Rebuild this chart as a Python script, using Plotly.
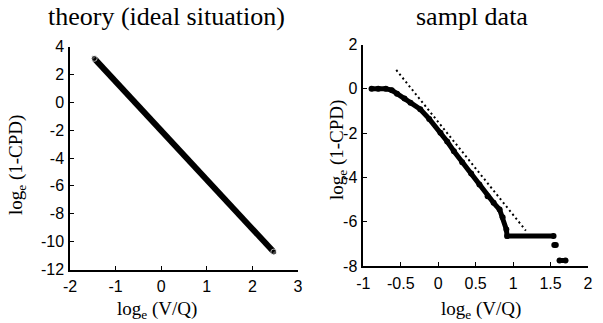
import plotly.graph_objects as go

# ---- data ----
theory_x = [-1.47, -1.0, -0.5, 0.0, 0.5, 1.0, 1.5, 2.0, 2.47]
theory_y = [3.15, 1.5, -0.3, -2.05, -3.8, -5.55, -7.3, -9.05, -10.75]

sample_x = [-0.89, -0.80, -0.70, -0.62, -0.55, -0.45, -0.37, -0.24, -0.12, 0.03, 0.12, 0.21,
            0.32, 0.44, 0.55, 0.66, 0.74, 0.82, 0.86, 0.91,
            0.92, 1.54, None, 1.55, 1.57, None, 1.62, 1.70]
sample_y = [0.0, 0.0, 0.0, -0.06, -0.22, -0.44, -0.63, -0.92, -1.36, -1.98, -2.38, -2.82,
            -3.32, -3.82, -4.32, -4.85, -5.15, -5.45, -5.8, -6.35,
            -6.65, -6.65, None, -7.05, -7.05, None, -7.75, -7.75]

fit_x = [-0.56, 1.17]
fit_y = [0.85, -6.4]

left_xticks = [-2, -1, 0, 1, 2, 3]
left_yticks = [4, 2, 0, -2, -4, -6, -8, -10, -12]
right_xticks = [-1, -0.5, 0, 0.5, 1, 1.5, 2]
right_yticks = [2, 0, -2, -4, -6, -8]


def lab(v):
    return "%g" % v


W, H = 603, 323


def px(x):
    return x / W


def py(y):
    return 1 - y / H


fig = go.Figure()
fig.add_trace(go.Scatter(x=theory_x, y=theory_y, mode="lines+markers",
                         line=dict(color="black", width=6),
                         marker=dict(color="black", size=[6, 0, 0, 0, 0, 0, 0, 0, 6]),
                         xaxis="x", yaxis="y", showlegend=False))
fig.add_trace(go.Scatter(x=sample_x, y=sample_y, mode="lines+markers",
                         line=dict(color="black", width=5),
                         marker=dict(color="black", size=6),
                         connectgaps=False,
                         xaxis="x2", yaxis="y2", showlegend=False))
fig.add_trace(go.Scatter(x=fit_x, y=fit_y, mode="lines",
                         line=dict(color="black", width=2, dash="2px,3px"),
                         xaxis="x2", yaxis="y2", showlegend=False))

tickfont = dict(family="Liberation Sans, Arial", size=16, color="black")
axis_common = dict(showline=True, linecolor="black", linewidth=1.5, ticks="inside",
                   ticklen=4, tickwidth=1.2, tickcolor="black", showgrid=False,
                   zeroline=False, tickfont=tickfont, mirror=False)

fig.update_layout(
    width=W, height=H, margin=dict(l=0, r=0, t=0, b=0, autoexpand=False),
    paper_bgcolor="white", plot_bgcolor="white",
    xaxis=dict(domain=[px(70), px(298)], range=[-2, 3], anchor="y",
               tickvals=left_xticks, ticktext=[lab(v) for v in left_xticks],
               ticklabelstandoff=2, **axis_common),
    yaxis=dict(domain=[py(269.5), py(46.5)], range=[-12, 4], anchor="x",
               tickvals=left_yticks, ticktext=[lab(v) for v in left_yticks],
               ticklabelstandoff=1, **axis_common),
    xaxis2=dict(domain=[px(363.3), px(588)], range=[-1, 2], anchor="y2",
                tickvals=right_xticks, ticktext=[lab(v) for v in right_xticks],
                ticklabelstandoff=2, **axis_common),
    yaxis2=dict(domain=[py(266), py(44.5)], range=[-8, 2], anchor="x2",
                tickvals=right_yticks, ticktext=[lab(v) for v in right_yticks],
                ticklabelstandoff=1, **axis_common),
)

serif = "Liberation Serif, Times New Roman, serif"
ann = [
    dict(text="theory (ideal situation)", x=px(166), y=py(17), size=26),
    dict(text="sampl data", x=px(472), y=py(17), size=26),
    dict(text="log<sub>e</sub> (V/Q)", x=px(157), y=py(310), size=19),
    dict(text="log<sub>e</sub> (V/Q)", x=px(481), y=py(310), size=19),
]
for a in ann:
    fig.add_annotation(text=a["text"], x=a["x"], y=a["y"], xref="paper", yref="paper",
                       showarrow=False, xanchor="center", yanchor="middle",
                       font=dict(family=serif, size=a["size"], color="black"))
for xx, yy in [(17, 165), (338, 150)]:
    fig.add_annotation(text="log<sub>e</sub> (1-CPD)", x=px(xx), y=py(yy), xref="paper",
                       yref="paper", showarrow=False, textangle=-90,
                       xanchor="center", yanchor="middle",
                       font=dict(family=serif, size=19, color="black"))
fig.add_annotation(text="<b>Fig. 1</b>", x=px(20), y=py(321), xref="paper", yref="paper",
                   showarrow=False, xanchor="left", yanchor="top",
                   font=dict(family=serif, size=20, color="black"))

fig.write_html("out.html")
